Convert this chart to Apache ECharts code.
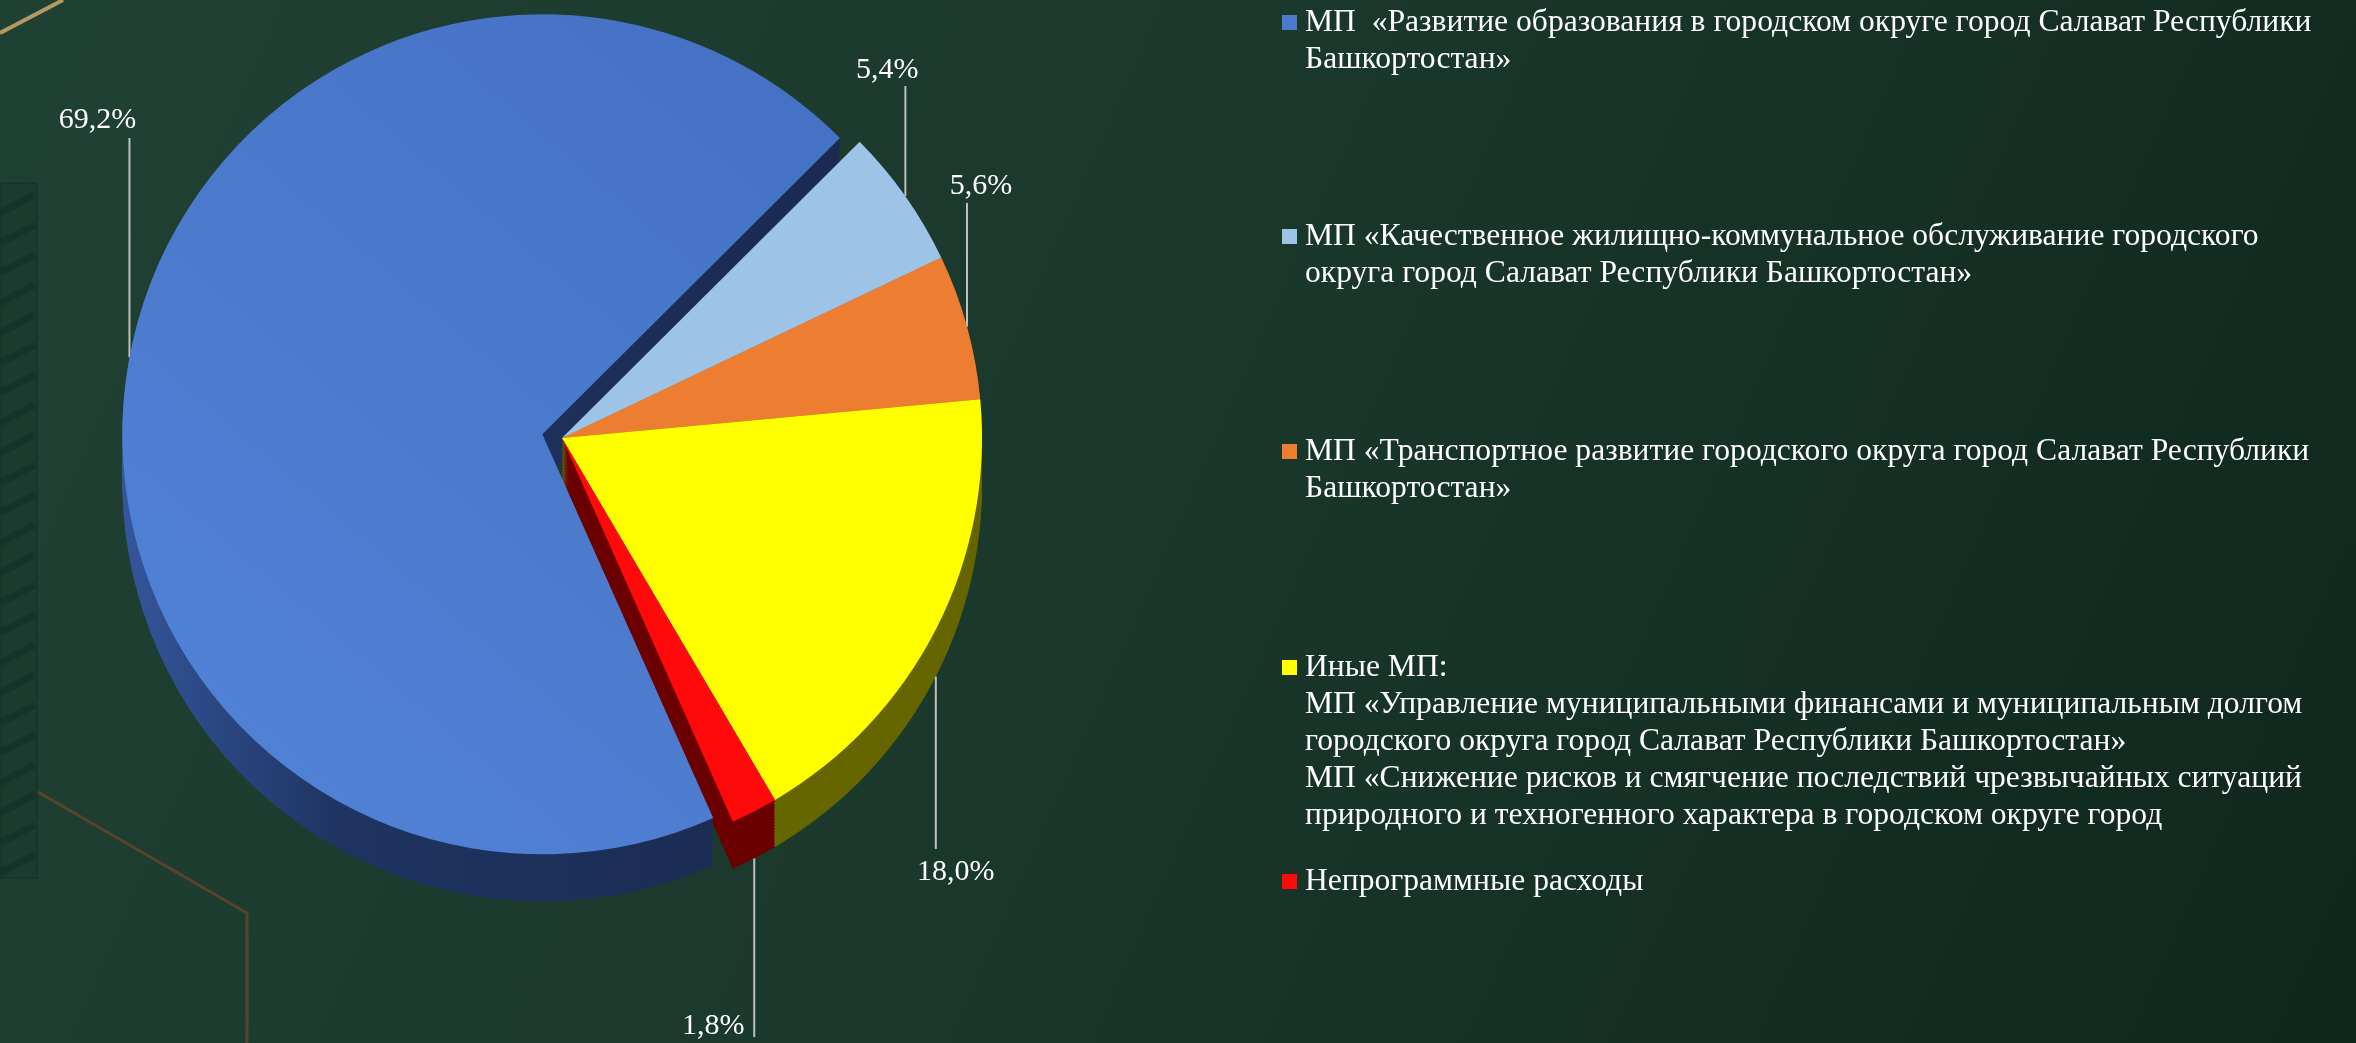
<!DOCTYPE html>
<html>
<head>
<meta charset="utf-8">
<script src="https://cdn.jsdelivr.net/npm/echarts@6/dist/echarts.min.js"></script>
<style>
  html, body { margin: 0; padding: 0; background: #1a372b; }
  #budgetPie { width: 2356px; height: 1043px; }
</style>
</head>
<body>
<div id="budgetPie"></div>
<script>
// programme names (legend order = data order)
const categories = [
    'МП  «Развитие образования в городском округе город Салават Республики Башкортостан»',
    'МП «Качественное жилищно-коммунальное обслуживание городского округа город Салават Республики Башкортостан»',
    'МП «Транспортное развитие городского округа город Салават Республики Башкортостан»',
    'Иные МП: МП «Управление муниципальными финансами и муниципальным долгом городского округа город Салават Республики Башкортостан» МП «Снижение рисков и смягчение последствий чрезвычайных ситуаций природного и техногенного характера в городском округе город',
    'Непрограммные расходы'
];
// share of expenses, %
const shares = [69.2, 5.4, 5.6, 18.0, 1.8];

// legend text as it is wrapped on the slide
const legendLines = [
    ['МП  «Развитие образования в городском округе город Салават Республики', 'Башкортостан»'],
    ['МП «Качественное жилищно-коммунальное обслуживание городского', 'округа город Салават Республики Башкортостан»'],
    ['МП «Транспортное развитие городского округа город Салават Республики', 'Башкортостан»'],
    ['Иные МП:', 'МП «Управление муниципальными финансами и муниципальным долгом', 'городского округа город Салават Республики Башкортостан»', 'МП «Снижение рисков и смягчение последствий чрезвычайных ситуаций', 'природного и техногенного характера в городском округе город'],
    ['Непрограммные расходы']
];

const topColors = ['#4a7acc', '#9dc3e6', '#ed7d31', '#ffff00', '#ff0a0a'];
const sideColors = ['#1c2d55', '#7a96b3', '#8c4a22', '#666600', '#6b0000'];

// layout
const cx = 562, cy = 438, R = 420, depth = 47, startAngle = -66, explode = 20;
const legendLeft = 1282;
const legendTop = [4, 218, 433, 649, 863];
const labelDx = [-32, -18, 14, 20, -41];
const labelY = [120, 70, 186, 872, 1026];
const lineEndY = [138, 86, 203, 849, 1037];
const serif = '"Times New Roman", "Liberation Serif", serif';
const clear = 'rgba(0,0,0,0)';

const chartDom = document.getElementById('budgetPie');
const budgetPie = echarts.init(chartDom);

const total = shares.reduce((a, b) => a + b, 0);

function midAngle(idx) {
    let before = 0;
    for (let i = 0; i < idx; i++) before += shares[i];
    return (startAngle - (before + shares[idx] / 2) / total * 360) * Math.PI / 180;
}

// the big slice is pulled out from the rest
const blueMid = midAngle(0);
const blueCenter = [cx + explode * Math.cos(blueMid), cy - explode * Math.sin(blueMid)];

// edge point of a slice at its middle angle (bottom of the side for lower slices)
function edgePoint(idx) {
    const mid = midAngle(idx);
    const c = idx === 0 ? blueCenter : [cx, cy];
    let x = c[0] + R * Math.cos(mid);
    let y = c[1] - R * Math.sin(mid);
    if (Math.sin(mid) < 0) y += depth;
    return [x, y];
}

const blueTop = new echarts.graphic.LinearGradient(0, 1, 1, 0, [
    { offset: 0, color: '#5384d8' },
    { offset: 1, color: '#4470c2' }
]);
const blueSide = new echarts.graphic.LinearGradient(0, 0, 1, 0, [
    { offset: 0, color: '#34569b' },
    { offset: 0.3, color: '#1f3462' },
    { offset: 1, color: '#1a2a50' }
]);

// show: 'all', 'big' (only first slice) or 'rest' (all but first)
function pieData(colors, bigColor, show) {
    return categories.map((name, i) => {
        let color = i === 0 ? bigColor : colors[i];
        if ((show === 'big' && i !== 0) || (show === 'rest' && i === 0)) color = clear;
        return {
            name: name,
            value: shares[i],
            itemStyle: { color: color }
        };
    });
}

function flatPie(center, data, z) {
    return {
        type: 'pie',
        silent: true,
        animation: false,
        z: z,
        center: center,
        radius: R,
        startAngle: startAngle,
        label: { show: false },
        labelLine: { show: false },
        itemStyle: { borderWidth: 0 },
        data: data
    };
}

const series = [];

// extruded side of the pie: darker copies stacked downwards
for (let dy = depth; dy > 0; dy -= 3) {
    series.push(flatPie([blueCenter[0], blueCenter[1] + dy], pieData(sideColors, blueSide, 'big'), 1));
    series.push(flatPie([cx, cy + dy], pieData(sideColors, blueSide, 'rest'), 1));
}

// top face of the big slice
series.push(flatPie(blueCenter, pieData(topColors, blueTop, 'big'), 3));

// top face of the other slices, carries all the labels
series.push({
    name: 'Расходы',
    type: 'pie',
    animation: false,
    z: 3,
    center: [cx, cy],
    radius: R,
    startAngle: startAngle,
    avoidLabelOverlap: false,
    itemStyle: { borderWidth: 0 },
    label: {
        show: true,
        position: 'outside',
        color: '#ffffff',
        fontFamily: serif,
        fontSize: 30,
        formatter: function (p) {
            return p.value.toFixed(1).replace('.', ',') + '%';
        }
    },
    labelLine: {
        show: true,
        length: 20,
        length2: 20,
        lineStyle: { color: '#bfbfbf', width: 2 }
    },
    labelLayout: function (params) {
        const i = params.dataIndex;
        const p = edgePoint(i);
        return {
            x: p[0] + labelDx[i],
            y: labelY[i],
            align: 'center',
            verticalAlign: 'middle',
            labelLinePoints: [[p[0], p[1]], [p[0], (p[1] + lineEndY[i]) / 2], [p[0], lineEndY[i]]]
        };
    },
    data: pieData(topColors, blueTop, 'rest')
});

// one legend block per programme, placed like on the slide
const legends = categories.map((name, i) => {
    const lines = legendLines[i];
    const text = '{sq|}{gap|}' + lines[0] +
        lines.slice(1).map(l => '\n{ind|}' + l).join('');
    return {
        data: [name],
        left: legendLeft,
        top: legendTop[i],
        padding: 0,
        orient: 'vertical',
        selectedMode: false,
        itemWidth: 0,
        itemHeight: 0,
        itemStyle: { color: 'transparent', borderWidth: 0 },
        formatter: function () { return text; },
        textStyle: {
            color: '#ffffff',
            fontFamily: serif,
            fontSize: 31.6,
            lineHeight: 37,
            padding: [0, 0, 0, -5],
            rich: {
                sq: { width: 15, height: 15, backgroundColor: topColors[i] },
                gap: { width: 8 },
                ind: { width: 23 }
            }
        }
    };
});

// slide decoration: stripes on the left edge and thin frame lines
const stripes = [];
for (let y = 195; y < 870; y += 30) {
    stripes.push({
        type: 'line',
        shape: { x1: 0, y1: y + 18, x2: 35, y2: y },
        style: { stroke: '#15332a', lineWidth: 7 }
    });
}

let budgetOption = {
    backgroundColor: new echarts.graphic.LinearGradient(0, 0, 1, 1, [
        { offset: 0, color: '#1f4134' },
        { offset: 0.5, color: '#1a372b' },
        { offset: 1, color: '#0f261c' }
    ]),
    graphic: [
        {
            type: 'rect',
            z: -1,
            shape: { x: 0, y: 183, width: 37, height: 695 },
            style: { fill: '#1b3b2e', stroke: '#17352a', lineWidth: 2 }
        },
        { type: 'group', z: -1, children: stripes },
        {
            type: 'polyline',
            z: -1,
            shape: { points: [[0, 33], [63, 0]] },
            style: { stroke: '#b39a62', lineWidth: 4, fill: null }
        },
        {
            type: 'polyline',
            z: -1,
            shape: { points: [[38, 792], [247, 913], [247, 1043]] },
            style: { stroke: '#5b4327', lineWidth: 3, fill: null }
        }
    ],
    legend: legends,
    series: series
};

budgetOption && budgetPie.setOption(budgetOption);
</script>
</body>
</html>
